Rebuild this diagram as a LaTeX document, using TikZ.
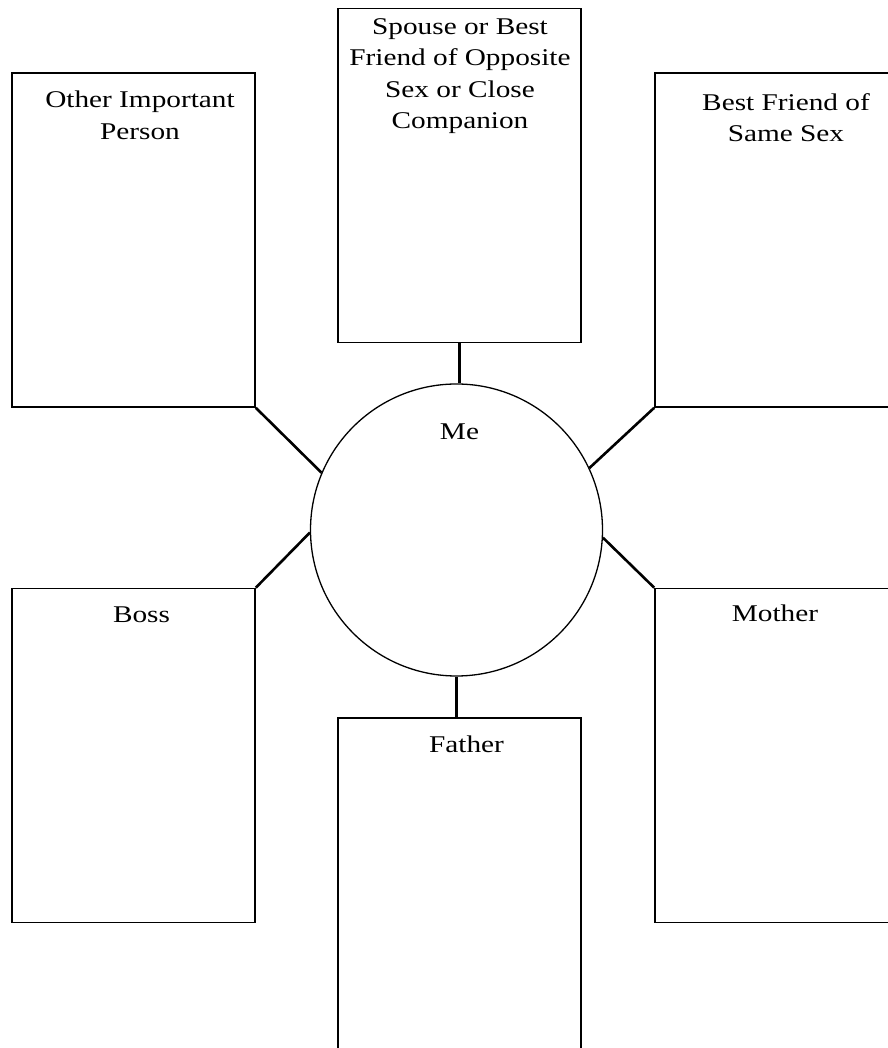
\documentclass[tikz,border=0pt]{standalone}
\usepackage{fontspec}
\setmainfont{Liberation Serif}[FakeStretch=1.22]
\usetikzlibrary{positioning}
\tikzset{
  personbox/.style={draw,rectangle,line width=1.6bp,minimum width=243bp,minimum height=334bp,inner sep=0pt},
  mecircle/.style={draw,circle,line width=1.3bp,minimum size=292bp,inner sep=0pt},
  boxtext/.style={align=center,inner sep=0pt,font=\fontsize{24bp}{31.5bp}\selectfont},
  link/.style={black,line width=2.6bp},
}
\begin{document}
\begin{tikzpicture}[line join=miter]
\useasboundingbox (0bp,0bp) rectangle (888bp,1048bp);
%%
\node (spouse) at (459.5bp,872.5bp) [personbox] {};
  \node (other) at (133.5bp,808bp) [personbox] {};
  \node (bestfriend) at (776.5bp,808bp) [personbox] {};
  \node (boss) at (133.5bp,292.5bp) [personbox] {};
  \node (mother) at (776.5bp,292.5bp) [personbox] {};
  \node (father) at (459.5bp,163bp) [personbox] {};
  \node (me) at (456.5bp,518bp) [mecircle] {};
%%
\node (spousetext) at (460bp,1030bp) [boxtext,anchor=north] {Spouse or Best\\Friend of Opposite\\Sex or Close\\Companion};
  \node (othertext) at (140bp,957bp) [boxtext,anchor=north] {Other Important\\Person};
  \node (bestfriendtext) at (786bp,955bp) [boxtext,anchor=north] {Best Friend of\\Same Sex};
  \node (metext) at (459.5bp,608bp) [boxtext,anchor=base] {Me};
  \node (bosstext) at (141.5bp,425bp) [boxtext,anchor=base] {Boss};
  \node (mothertext) at (775bp,426bp) [boxtext,anchor=base] {Mother};
  \node (fathertext) at (466.5bp,295bp) [boxtext,anchor=base] {Father};
%%
\draw [link] (spouse.south) -- (spouse.south |- me.north);
  \draw [link] (other.south east) -- (me.157);
  \draw [link] (bestfriend.south west) -- (me.25);
  \draw [link] (boss.north east) -- (me.181);
  \draw [link] (mother.north west) -- (me.357);
  \draw [link] (father.north -| me.south) -- (me.south);
%
\end{tikzpicture}
\end{document}
